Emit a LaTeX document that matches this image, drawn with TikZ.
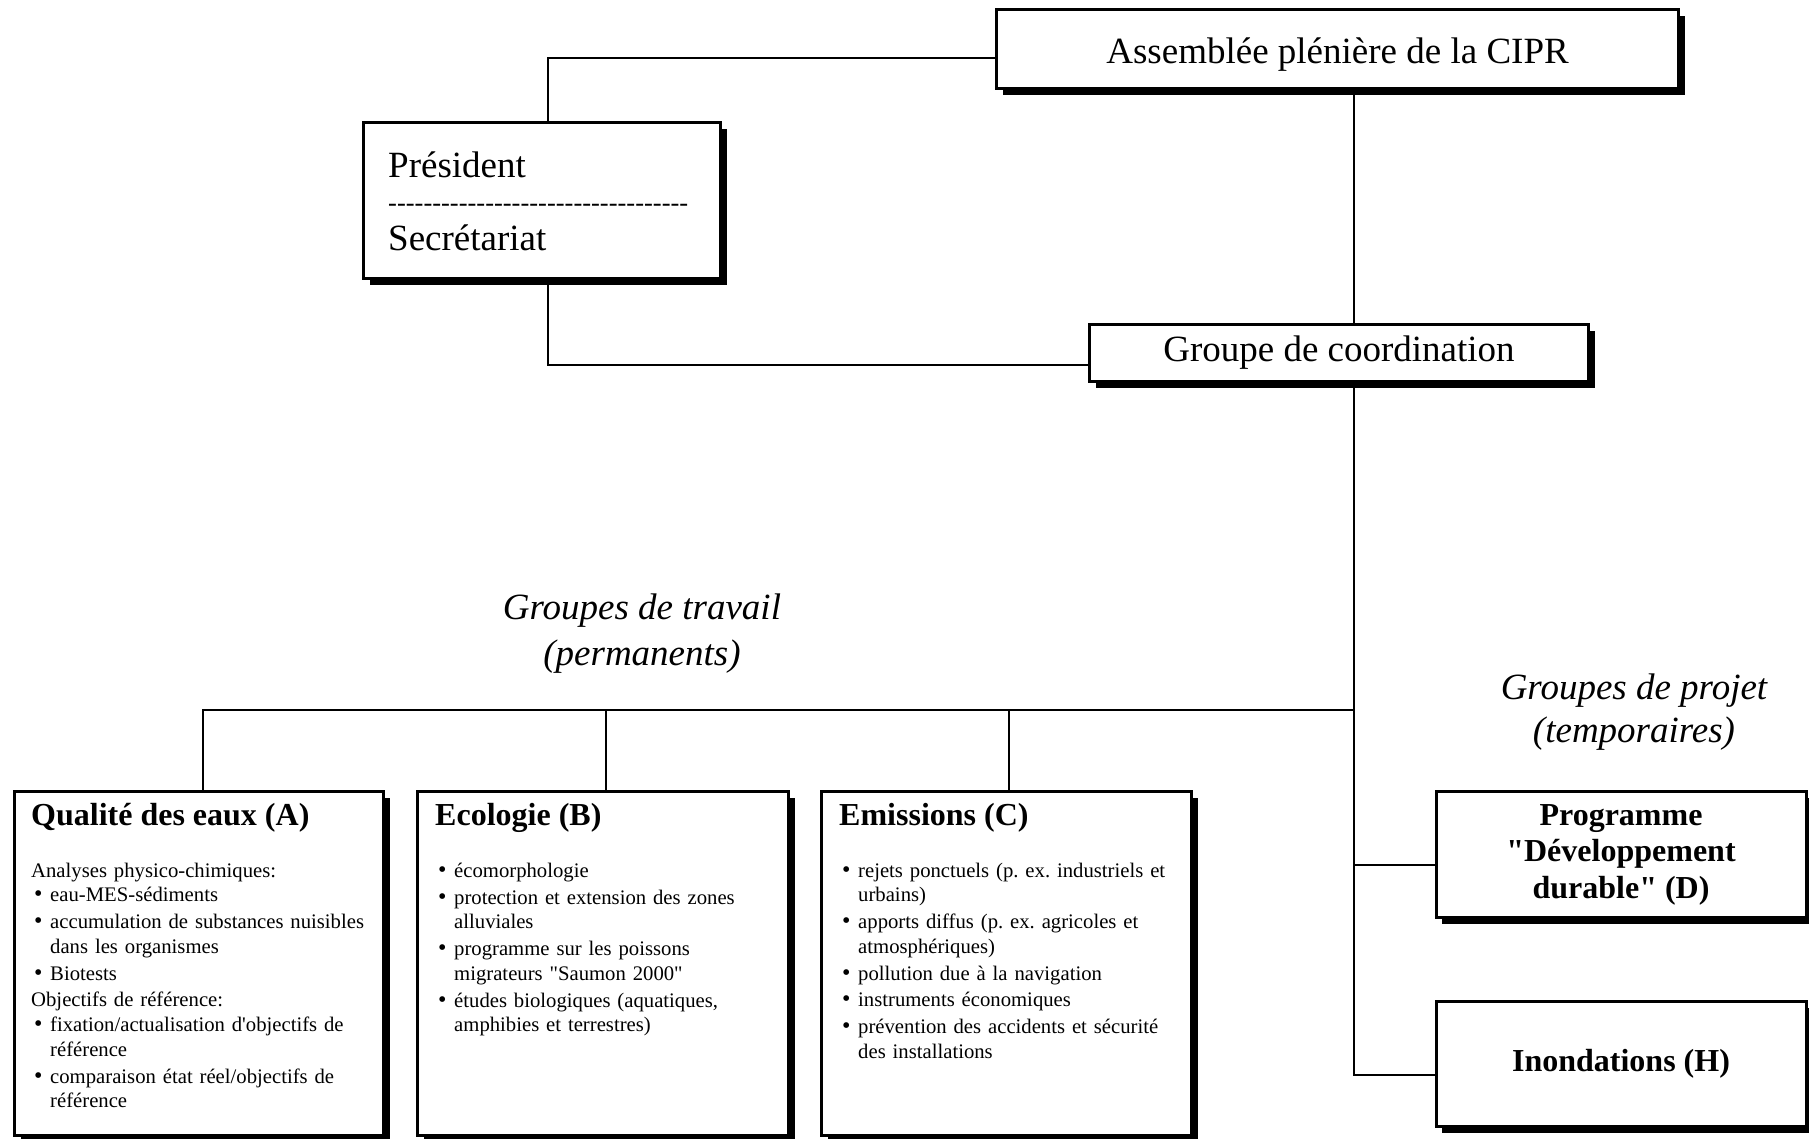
\documentclass[tikz,border=0pt]{standalone}
\usepackage{fontspec}
\setmainfont{Liberation Serif}
\usetikzlibrary{shadows}
\frenchspacing

% bullet line of the lists, hanging indent for the wrapped lines
\newcommand{\itm}[1]{\hangindent=19pt\hangafter=1\noindent\makebox[19pt][l]{\hspace{3pt}{\fontsize{24}{24}\selectfont\textbullet}}#1\par\vspace{2.3pt}}
\newcommand{\lead}[1]{\noindent #1\par}

\begin{document}
\begin{tikzpicture}[x=1pt, y=-1pt,
  box/.style={draw, line width=3pt, fill=white, inner sep=0,
    drop shadow={shadow xshift=6pt, shadow yshift=-6pt, fill=black, opacity=1}},
  link/.style={line width=1.3pt},
  bigtxt/.style={font=\fontsize{37}{44}\selectfont},
  headtxt/.style={font=\fontsize{32}{36.5}\selectfont\bfseries, inner sep=0, anchor=base west},
  listtxt/.style={font=\fontsize{20.7}{24.6}\selectfont, inner sep=0, anchor=north west, text width=352pt},
  grouptxt/.style={font=\fontsize{37}{#1}\selectfont\itshape, align=center}]

\useasboundingbox (0,0) rectangle (1809,1138);

% boxes
\node[box, bigtxt, minimum width=682pt, minimum height=79pt, text height=28pt, text depth=0pt] (asm) at (1337.5,49) {Assemblée plénière de la CIPR};
\node[box, minimum width=357pt, minimum height=156pt] (pres) at (542,200.5) {};
\node[box, bigtxt, minimum width=499pt, minimum height=57pt] (coord) at (1339,353) {Groupe de coordination};

\node[box, minimum width=369pt, minimum height=344pt] (qa) at (199,963.5) {};
\node[box, minimum width=371pt, minimum height=344pt] (eco) at (603,963.5) {};
\node[box, minimum width=370pt, minimum height=344pt] (emi) at (1006.5,963.5) {};

\node[box, minimum width=370pt, minimum height=126pt, align=center, font=\fontsize{32}{36.5}\selectfont\bfseries] (dd) at (1621,854.5) {Programme\\\textquotedbl Développement\\durable\textquotedbl{} (D)};
\node[box, minimum width=370pt, minimum height=125pt, font=\fontsize{32}{36.5}\selectfont\bfseries] (hw) at (1621,1064) {Inondations (H)};

% president / secretariat
\node[bigtxt, anchor=base west, inner sep=0] (pres-a) at (388,177) {Président};
\node[font=\fontsize{26.5}{30}\selectfont, anchor=base west, inner sep=0] (pres-b) at (388,211) {\foreach \i in {1,...,34}{\mbox{-}}};
\node[bigtxt, anchor=base west, inner sep=0] (pres-c) at (388,250) {Secrétariat};

% connectors
\coordinate (kP) at (548,58);
\coordinate (kQ) at (548,365);
\coordinate (tr) at (1354,710);
\coordinate (jD) at (1354,865);
\coordinate (jH) at (1354,1075);
\coordinate (dqa) at (203,710);
\coordinate (deco) at (606,710);
\coordinate (demi) at (1009,710);

\draw[link] (asm.west |- kP) -- (kP) -- (pres.north -| kP);
\draw[link] (pres.south -| kQ) -- (kQ) -- (coord.west |- kQ);
\draw[link] (asm.south -| tr) -- (coord.north -| tr);
\draw[link] (coord.south -| tr) -- (jH) -- (hw.west |- jH);
\draw[link] (jD) -- (dd.west |- jD);
\draw[link] (tr) -- (dqa) -- (qa.north -| dqa);
\foreach \n in {eco, emi}
  \draw[link] (d\n) -- (\n.north -| d\n);

% group labels
\node[grouptxt=46] (wg-lbl) at (642,634) {Groupes de travail\\(permanents)};
\node[grouptxt=43] (pg-lbl) at (1634,712) {Groupes de projet\\(temporaires)};

% working groups
\node[headtxt] (qa-head) at (31,825) {Qualité des eaux (A)};
\node[listtxt] (qa-list) at (31,862.5) {%
  \lead{Analyses physico-chimiques:}
  \itm{eau-MES-sédiments}
  \itm{accumulation de substances nuisibles\newline dans les organismes}
  \itm{Biotests}
  \lead{Objectifs de référence:}
  \itm{fixation/actualisation d\textquotesingle objectifs de\newline référence}
  \itm{comparaison état réel/objectifs de\newline référence}};

\node[headtxt] (eco-head) at (435,825) {Ecologie (B)};
\node[listtxt] (eco-list) at (435,862.5) {%
  \itm{écomorphologie}
  \itm{protection et extension des zones\newline alluviales}
  \itm{programme sur les poissons\newline migrateurs \textquotedbl Saumon 2000\textquotedbl}
  \itm{études biologiques (aquatiques,\newline amphibies et terrestres)}};

\node[headtxt] (emi-head) at (839,825) {Emissions (C)};
\node[listtxt] (emi-list) at (839,862.5) {%
  \itm{rejets ponctuels (p. ex. industriels et\newline urbains)}
  \itm{apports diffus (p. ex. agricoles et\newline atmosphériques)}
  \itm{pollution due à la navigation}
  \itm{instruments économiques}
  \itm{prévention des accidents et sécurité\newline des installations}};

\end{tikzpicture}
\end{document}
